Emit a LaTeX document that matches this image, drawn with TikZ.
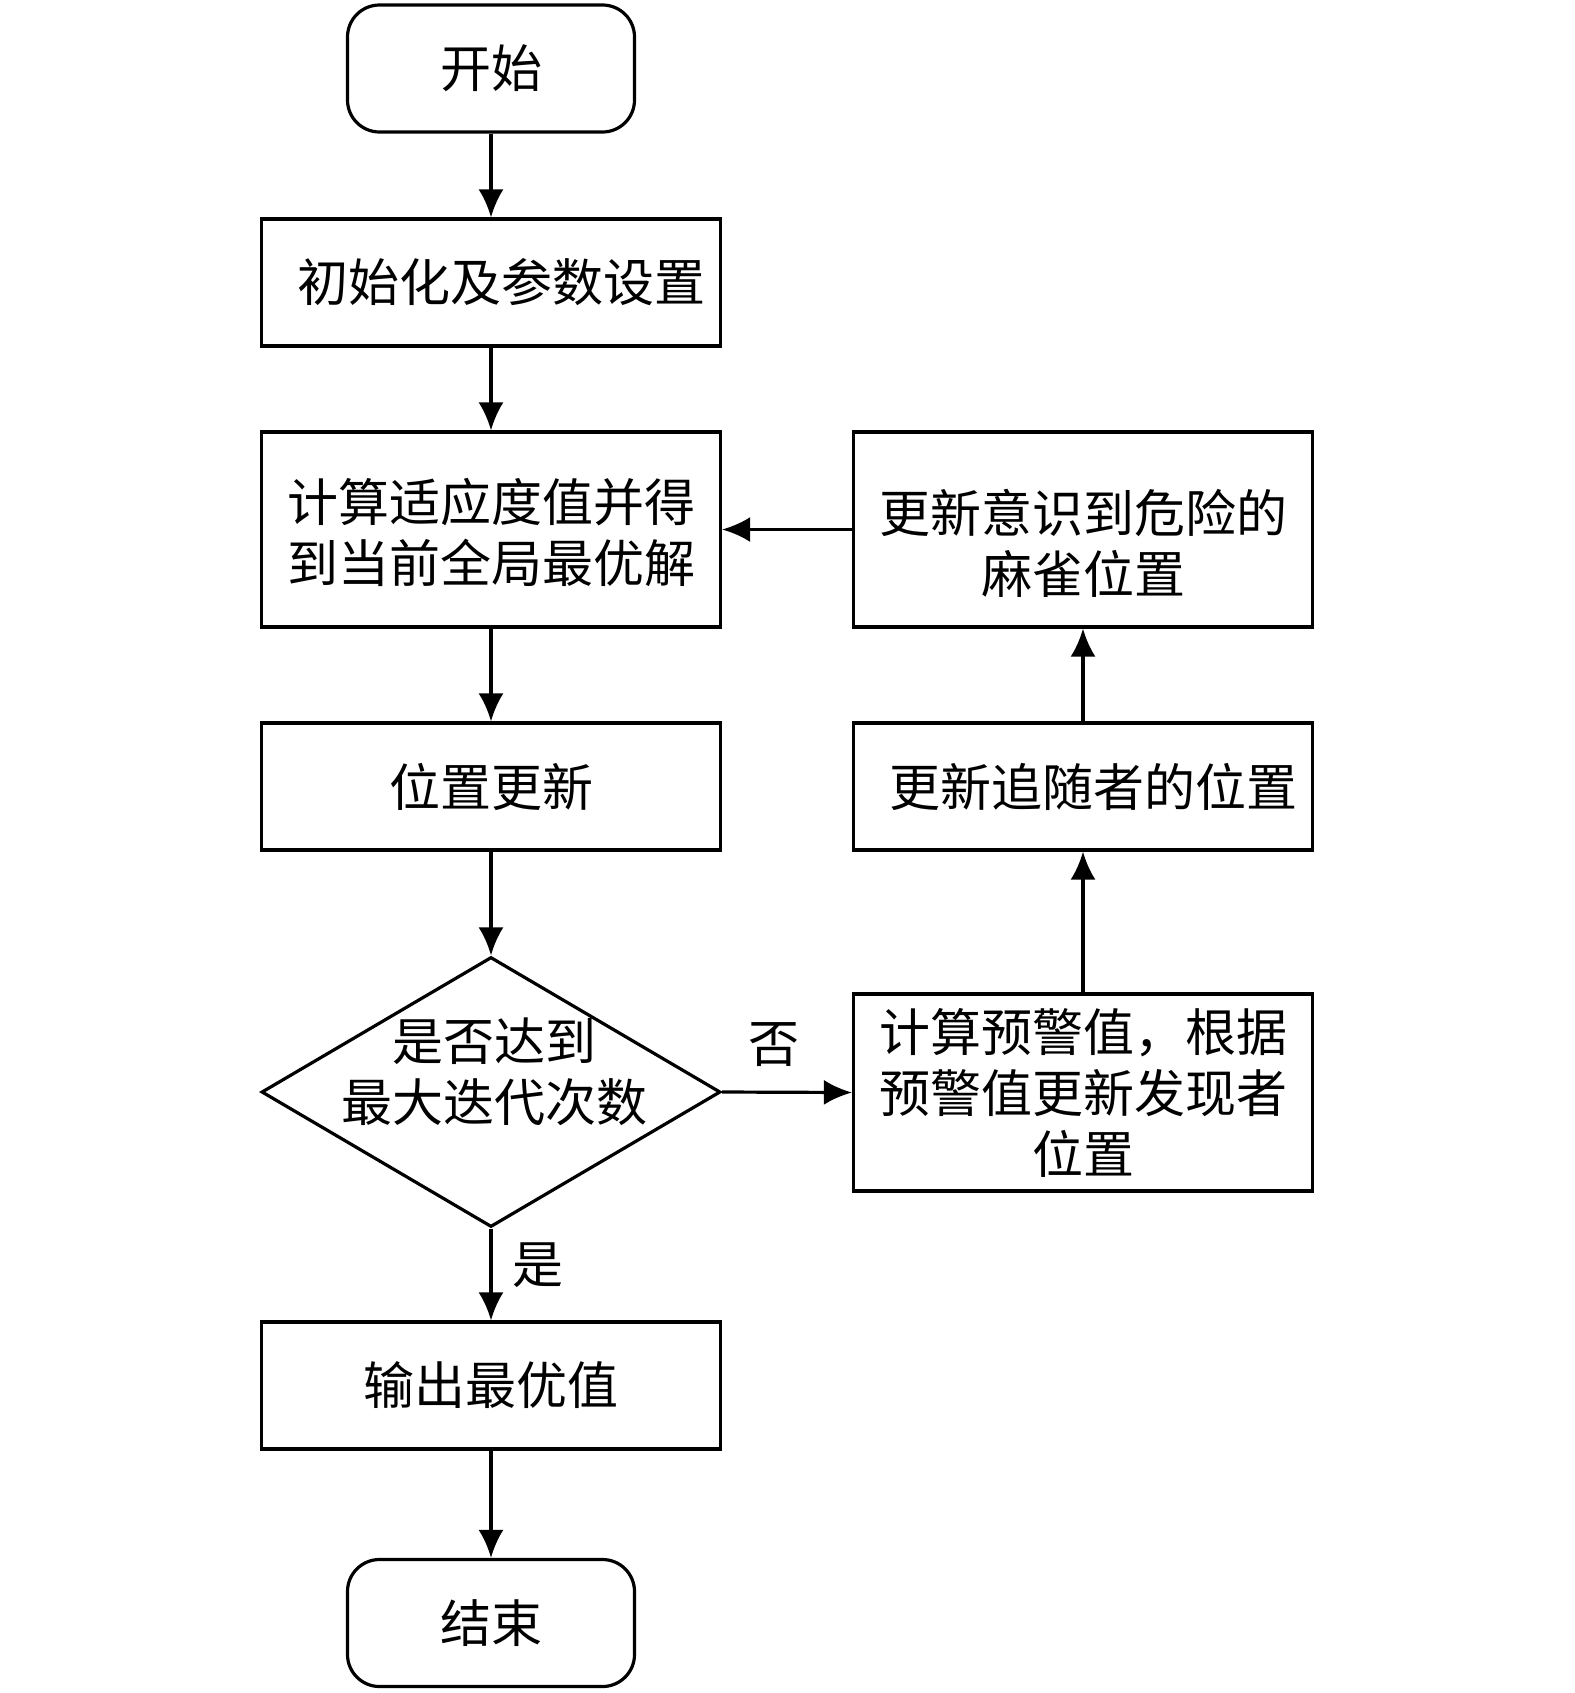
\documentclass[tikz,border=0pt]{standalone}
\usepackage{fontspec}
\setmainfont{Noto Sans CJK SC}
\usetikzlibrary{shapes.geometric,arrows.meta}
\tikzset{
  x=0.5pt, y=-0.5pt,
  base/.style={draw=black, line width=1.6pt, inner sep=0pt, align=center,
    font=\fontsize{25.5pt}{30.5pt}\selectfont, text=black},
  proc/.style={base, rectangle, minimum width=229.5pt},
  term/.style={base, rectangle, rounded corners=16pt, minimum width=143.5pt, minimum height=63.5pt},
  dec/.style={base, diamond, minimum width=229.5pt, minimum height=135pt},
  txt/.style={inner sep=0pt, align=center, font=\fontsize{25.5pt}{30.5pt}\selectfont},
  conn/.style={line width=1.6pt, -{Latex[length=14pt,width=12.5pt]}},
}
\begin{document}
\begin{tikzpicture}
\useasboundingbox (0,0) rectangle (1575,1693);
\fill[white] (0,0) rectangle (1575,1693);
\node[term] (start) at (491,68.5) {开始};
\node[proc, minimum height=63.5pt] (init) at (491,282.5) {\hspace*{10pt}初始化及参数设置};
\node[proc, minimum height=97.5pt] (fit) at (491,529.5) {};
\node[txt] (fitt) at (491,532) {计算适应度值并得\\到当前全局最优解};
\node[proc, minimum height=63.5pt] (pos) at (491,786.5) {位置更新};
\node[dec] (dec) at (491,1092) {};
\node[txt] (dect) at (494,1072) {是否达到\\最大迭代次数};
\node[proc, minimum height=63.5pt] (out) at (491,1385.5) {输出最优值};
\node[term] (end) at (491,1623) {结束};
\node[proc, minimum height=97.5pt] (danger) at (1083,529.5) {};
\node[txt] (dangert) at (1083,543) {更新意识到危险的\\麻雀位置};
\node[proc, minimum height=63.5pt] (follow) at (1083,786.5) {\hspace*{10pt}更新追随者的位置};
\node[proc, minimum height=98.5pt] (disc) at (1083,1092.5) {计算预警值，根据\\预警值更新发现者\\位置};
\draw[conn] (start) -- (init);
\draw[conn] (init) -- (fit);
\draw[conn] (fit) -- (pos);
\draw[conn] (pos) -- (dec);
\draw[conn] (dec) -- node[txt, pos=0.4, right=10pt] (yes) {是} (out);
\draw[conn] (out) -- (end);
\draw[conn] (dec.east) -- node[txt, pos=0.4, above=12pt] (no) {否} (disc.west);
\draw[conn] (disc) -- (follow);
\draw[conn] (follow) -- (danger);
\draw[conn] (danger.west) -- (fit.east);
\end{tikzpicture}
\end{document}
